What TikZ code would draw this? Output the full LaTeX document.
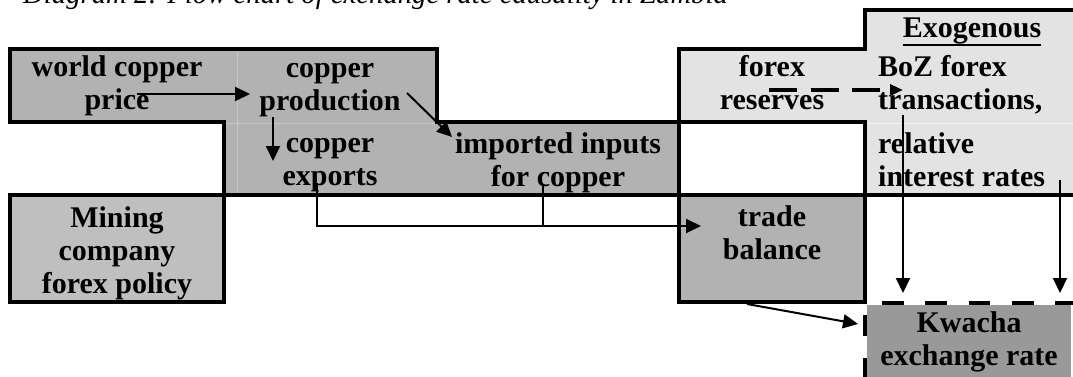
\documentclass[tikz,border=0pt]{standalone}
\usepackage{fontspec}
\setmainfont{Liberation Serif}
\usetikzlibrary{arrows.meta}
\definecolor{copperfill}{gray}{0.70}
\definecolor{forexfill}{gray}{0.89}
\definecolor{miningfill}{gray}{0.75}
\definecolor{kwachafill}{gray}{0.60}
\definecolor{gridfaint}{gray}{0.78}
\definecolor{gridfaintlight}{gray}{0.95}
\begin{document}
\begin{tikzpicture}[x=1pt,y=-1pt,
  frame/.style={line width=4pt, line join=miter, line cap=rect},
  cellgrid/.style={line width=0.9pt},
  label/.style={font=\fontsize{30}{33}\selectfont\bfseries, inner sep=0pt, anchor=base, align=center},
  leftlabel/.style={label, align=left, anchor=base west},
  link/.style={line width=2pt, -{Triangle[length=15pt,width=14pt]}},
  wire/.style={line width=2pt},
  dashlink/.style={line width=3.3pt, dash pattern=on 28pt off 13.5pt, -{Triangle[length=13pt,width=11pt]}},
  kwachaedge/.style={line width=4.5pt, dash pattern=on 21.7pt off 21.7pt}
]
\useasboundingbox (0,0) rectangle (1073,377);
\clip (0,0) rectangle (1073,377);

% title line
\node[font=\fontsize{28.7}{33}\selectfont\itshape, inner sep=0pt, anchor=base west] (title) at (23,4)
  {Diagram 2: Flow chart of exchange rate causality in Zambia};

% shaded areas
\fill[copperfill] (10,49) -- (437,49) -- (437,122) -- (679,122) -- (679,195)
  -- (224,195) -- (224,122) -- (10,122) -- cycle;
\fill[forexfill] (679,49) -- (865,49) -- (865,10) -- (1090,10) -- (1090,195)
  -- (865,195) -- (865,122) -- (679,122) -- cycle;
\fill[miningfill] (10,195) rectangle (224,302);
\fill[copperfill] (679,195) rectangle (865,302);
\fill[kwachafill] (867,305) rectangle (1071,390);

% faint table rules inside the shaded areas
\draw[cellgrid, gridfaint] (237,49) -- (237,195);
\draw[cellgrid, gridfaint] (224,123.5) -- (437,123.5);
\draw[cellgrid, gridfaintlight] (865,123.5) -- (1090,123.5);

% heavy outlines
\draw[frame] (224,195) -- (224,122) -- (10,122) -- (10,49) -- (437,49) -- (437,122) -- (679,122);
\draw[frame] (679,195) -- (679,49) -- (865,49) -- (865,10) -- (1090,10);
\draw[frame] (679,122) -- (865,122) -- (865,195);
\draw[frame] (10,195) -- (1090,195);
\draw[frame] (10,195) -- (10,302) -- (224,302) -- (224,195);
\draw[frame] (679,195) -- (679,302) -- (865,302) -- (865,195);

% dashed edges of the exchange rate box
\draw[kwachaedge, dash phase=26.6pt] (865,303) -- (1090,303);
\draw[kwachaedge, dash phase=2.7pt] (865,377) -- (865,303);

% cell texts (positions give the baseline of the last line)
\node[label] (wcp) at (117,110) {world copper\\price};
\node[label] (cprod) at (330,111) {copper\\production};
\node[label] (cexp) at (330,185) {copper\\exports};
\node[label] (impin) at (558,186) {imported inputs\\for copper};
\node[label] (fxres) at (772,110) {forex\\reserves};
\node[label] (exo) at (972,38) {Exogenous};
\draw[line width=2pt] (exo.south west) -- (exo.south east);
\node[leftlabel] (boz) at (878,110) {BoZ forex\\transactions,};
\node[leftlabel] (rir) at (878,186) {relative\\interest rates};
\node[label] (mcfp) at (117,293) {Mining\\company\\forex policy};
\node[label] (tbal) at (772,259) {trade\\balance};
\node[label] (kwr) at (969,365) {Kwacha\\exchange rate};

% connector end points
\coordinate (wcpOut) at (137,94);
\coordinate (cprodIn) at (250,94);
\coordinate (cprodDown) at (273,117);
\coordinate (cexpIn) at (273,161);
\coordinate (cprodDiag) at (407,93);
\coordinate (impinIn) at (452,137);
\coordinate (fxresOut) at (769,90);
\coordinate (bozIn) at (903,90);
\coordinate (cexpOut) at (317,183);
\coordinate (impinOut) at (543,185);
\coordinate (tbalIn) at (701,226);
\coordinate (bozOut) at (903,115);
\coordinate (rirOut) at (1060,180);
\coordinate (kwrInA) at (903,293);
\coordinate (kwrInB) at (1060,293);
\coordinate (tbalOut) at (747,304);
\coordinate (kwrInC) at (858,324);

% causal links
\draw[link] (wcpOut) -- (cprodIn);
\draw[link] (cprodDown) -- (cexpIn);
\draw[link] (cprodDiag) -- (impinIn);
\draw[dashlink] (fxresOut) -- (bozIn);
\draw[link] (cexpOut) |- (tbalIn);
\draw[wire] (impinOut) -- (impinOut |- tbalIn);
\draw[link] (bozOut) -- (kwrInA);
\draw[link] (rirOut) -- (kwrInB);
\draw[link] (tbalOut) -- (kwrInC);
\end{tikzpicture}
\end{document}
